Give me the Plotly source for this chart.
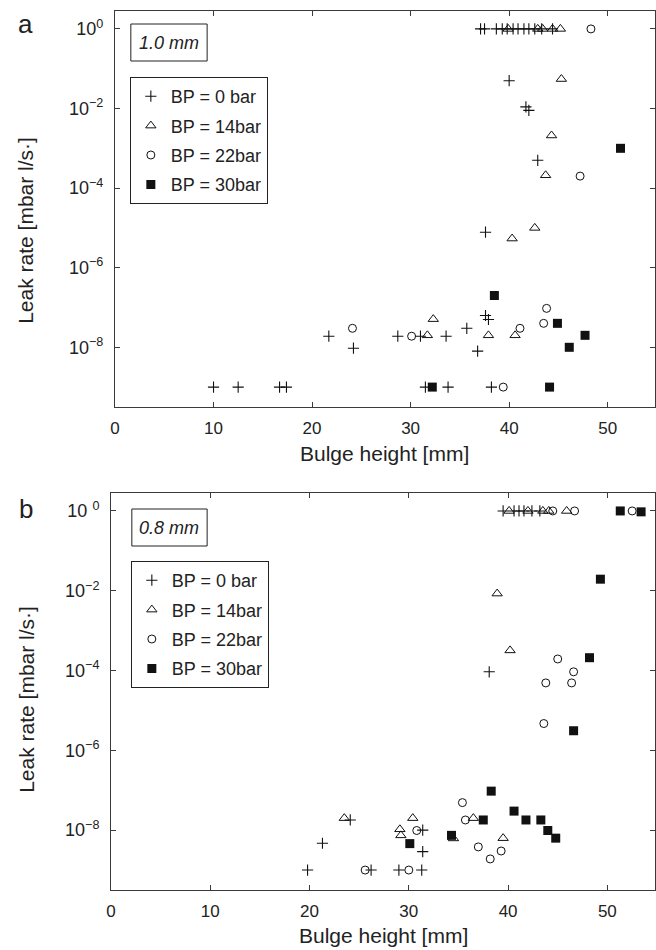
import plotly.graph_objects as go

# ---------------- data : panel a (1.0 mm) ----------------
a_bp0_x = [37.1, 37.5, 38.7, 39.3, 39.8, 40.4, 40.9, 41.5, 42.0, 42.6, 43.3, 44.4,
           40.0, 41.7, 42.0, 42.9, 37.6, 37.6, 37.9, 35.7, 21.7, 28.7, 31.0, 33.6,
           24.2, 36.8, 10.0, 12.5, 16.7, 17.4, 31.5, 33.8, 38.2]
a_bp0_y = [1, 1, 1, 1, 1, 1, 1, 1, 1, 1, 1, 1,
           5e-2, 1.1e-2, 9e-3, 5e-4, 7.8e-6, 6.3e-8, 5e-8, 3e-8, 1.9e-8, 1.9e-8, 1.9e-8, 1.9e-8,
           9.5e-9, 8e-9, 1e-9, 1e-9, 1e-9, 1e-9, 1e-9, 1e-9, 1e-9]

a_bp14_x = [39.9, 42.9, 43.4, 44.4, 45.2, 45.3, 44.3, 43.7, 42.6, 40.3, 32.3, 31.7, 37.9, 40.6]
a_bp14_y = [1, 1, 1, 1, 1, 5.5e-2, 2.1e-3, 2.1e-4, 1e-5, 5.4e-6, 5.1e-8, 2e-8, 2e-8, 2e-8]

a_bp22_x = [48.3, 47.2, 43.8, 43.5, 41.1, 24.1, 30.1, 39.4]
a_bp22_y = [1, 2e-4, 9.5e-8, 4e-8, 3e-8, 3e-8, 1.9e-8, 1e-9]

a_bp30_x = [51.3, 38.5, 44.9, 47.7, 46.1, 32.2, 44.1]
a_bp30_y = [1e-3, 2e-7, 4e-8, 2e-8, 1e-8, 1e-9, 1e-9]

# ---------------- data : panel b (0.8 mm) ----------------
b_bp0_x = [39.5, 40.6, 41.1, 41.6, 42.4, 43.2, 38.1, 24.1, 31.4, 21.3, 31.4, 19.8, 26.2, 29.0, 31.3]
b_bp0_y = [1, 1, 1, 1, 1, 1, 9.3e-5, 1.8e-8, 1e-8, 4.7e-9, 2.9e-9, 1e-9, 1e-9, 1e-9, 1e-9]

b_bp14_x = [40.1, 42.0, 43.5, 44.1, 45.9, 38.9, 40.2, 23.5, 30.4, 36.5, 29.1, 29.2, 34.5, 39.5]
b_bp14_y = [1, 1, 1, 1, 1, 8.5e-3, 3.2e-4, 2e-8, 2e-8, 2e-8, 1.05e-8, 7.4e-9, 6.2e-9, 6.3e-9]

b_bp22_x = [44.5, 46.7, 52.5, 45.0, 46.6, 43.8, 46.4, 43.6, 35.4, 35.7, 30.8, 37.0, 39.3, 38.2, 25.6, 30.0]
b_bp22_y = [1, 1, 1, 1.95e-4, 9.3e-5, 4.9e-5, 4.9e-5, 4.7e-6, 4.9e-8, 1.8e-8, 9.8e-9,
            3.8e-9, 3e-9, 1.9e-9, 1e-9, 1e-9]

b_bp30_x = [51.3, 53.4, 49.3, 48.2, 46.6, 38.3, 40.6, 37.5, 41.8, 43.3, 44.0, 44.8, 30.1, 34.3]
b_bp30_y = [1, 0.95, 1.95e-2, 2.1e-4, 3.1e-6, 9.5e-8, 3e-8, 1.8e-8, 1.8e-8, 1.8e-8,
            9.8e-9, 6.3e-9, 4.6e-9, 7.4e-9]

series_names = ["BP = 0 bar", "BP = 14bar", "BP = 22bar", "BP = 30bar"]
y_tickvals = [1, 1e-2, 1e-4, 1e-6, 1e-8]
a_ticktext = ["10<sup>0</sup>", "10<sup>\u22122</sup>", "10<sup>\u22124</sup>",
              "10<sup>\u22126</sup>", "10<sup>\u22128</sup>"]
b_ticktext = ["10 <sup>0</sup>", "10<sup>\u22122</sup>", "10<sup>\u22124</sup>",
              "10<sup>\u22126</sup>", "10<sup>\u22128</sup>"]
x_tickvals = [0, 10, 20, 30, 40, 50]

# ---------------- figure ----------------
W, H = 656, 950
FONT = "Liberation Sans, Arial, sans-serif"
INK = "#111111"
AX = "#3a3a3a"

styles = [
    dict(symbol="cross-thin-open", size=8, line=dict(color=INK, width=1.1), color=INK),
    dict(symbol="triangle-up-open", size=9, line=dict(color=INK, width=1.0), color=INK),
    dict(symbol="circle-open", size=8, line=dict(color=INK, width=1.0), color=INK),
    dict(symbol="square", size=9, line=dict(color=INK, width=0), color=INK),
]

fig = go.Figure()
panels = [
    ("x", "y", "legend", [(a_bp0_x, a_bp0_y), (a_bp14_x, a_bp14_y), (a_bp22_x, a_bp22_y), (a_bp30_x, a_bp30_y)]),
    ("x2", "y2", "legend2", [(b_bp0_x, b_bp0_y), (b_bp14_x, b_bp14_y), (b_bp22_x, b_bp22_y), (b_bp30_x, b_bp30_y)]),
]
for xa, ya, lg, data in panels:
    for i, (xs, ys) in enumerate(data):
        fig.add_trace(go.Scatter(
            x=xs, y=ys, mode="markers", name=series_names[i],
            marker=styles[i], xaxis=xa, yaxis=ya, legend=lg,
            legendgroup=f"{lg}_{i}", showlegend=True,
        ))

def px_x(p):
    return p / W

def px_y(p):
    return 1 - p / H

def xaxis_cfg(domain, anchor):
    return dict(domain=domain, anchor=anchor, range=[0, 54.8], tickvals=x_tickvals,
                ticks="inside", ticklen=5, tickcolor=AX, showline=True, linecolor=AX,
                linewidth=1, mirror="allticks", showgrid=False, zeroline=False,
                tickfont=dict(family=FONT, size=17, color="#222"), ticklabelstandoff=6)

def yaxis_cfg(domain, anchor, ticktext):
    return dict(domain=domain, anchor=anchor, type="log", range=[-9.5, 0.45],
                tickvals=y_tickvals, ticktext=ticktext,
                ticks="inside", ticklen=5, tickcolor=AX, showline=True, linecolor=AX,
                linewidth=1, mirror="allticks", showgrid=False, zeroline=False,
                tickfont=dict(family=FONT, size=18, color="#222"), ticklabelstandoff=7)

leg_common = dict(bgcolor="white", bordercolor="#222", borderwidth=1,
                  font=dict(family=FONT, size=18, color="#222"),
                  xanchor="left", yanchor="top", tracegroupgap=3, traceorder="grouped",
                  itemclick=False, itemdoubleclick=False)

fig.update_layout(
    width=W, height=H, margin=dict(l=0, r=0, t=0, b=0),
    paper_bgcolor="white", plot_bgcolor="white",
    xaxis=xaxis_cfg([px_x(111), 1.0], "y"),
    yaxis=yaxis_cfg([px_y(407), px_y(11)], "x", a_ticktext),
    xaxis2=xaxis_cfg([px_x(107), 1.0], "y2"),
    yaxis2=yaxis_cfg([px_y(890), px_y(493)], "x2", b_ticktext),
    legend=dict(x=px_x(126), y=px_y(77), **leg_common),
    legend2=dict(x=px_x(127), y=px_y(561), **leg_common),
)

# thickness boxes
for (x0, x1, y0, y1, txt) in [(127, 204, 24, 61, "1.0 mm"), (128, 204, 509, 546, "0.8 mm")]:
    fig.add_shape(type="rect", xref="paper", yref="paper",
                  x0=px_x(x0), x1=px_x(x1), y0=px_y(y1), y1=px_y(y0),
                  line=dict(color="#222", width=1), fillcolor="white")
    fig.add_annotation(xref="paper", yref="paper", x=px_x((x0 + x1) / 2), y=px_y((y0 + y1) / 2),
                       text=f"<i>{txt}</i>", showarrow=False, xanchor="center", yanchor="middle",
                       font=dict(family=FONT, size=18, color="#222"))

# axis titles and panel letters
for (cx, cy) in [(383, 453), (382, 935)]:
    fig.add_annotation(xref="paper", yref="paper", x=px_x(cx), y=px_y(cy),
                       text="Bulge height [mm]", showarrow=False, xanchor="center",
                       yanchor="middle", font=dict(family=FONT, size=21, color="#222"))
for (cx, cy) in [(21, 230), (21, 699)]:
    fig.add_annotation(xref="paper", yref="paper", x=px_x(cx), y=px_y(cy),
                       text="Leak rate [mbar l/s\u00b7]", showarrow=False, textangle=-90,
                       xanchor="center", yanchor="middle",
                       font=dict(family=FONT, size=21, color="#222"))
for (cx, cy, t) in [(21, 24, "a"), (21, 509, "b")]:
    fig.add_annotation(xref="paper", yref="paper", x=px_x(cx), y=px_y(cy),
                       text=t, showarrow=False, xanchor="center", yanchor="middle",
                       font=dict(family=FONT, size=26, color="#222"))

fig.write_html("out.html")
